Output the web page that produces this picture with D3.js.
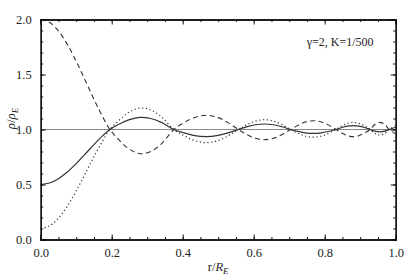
<!DOCTYPE html>
<html>
<head>
<meta charset="utf-8">
<script src="https://cdn.jsdelivr.net/npm/d3@7"></script>
<style>
  body { margin: 0; background: #fff; }
  text { font-family: "Liberation Serif", "DejaVu Serif", serif; fill: #222; }
</style>
</head>
<body>
<div id="grafico"></div>
<script>
// datos: r/R_E y rho/rho_E para cada curva
var radios = [0, 0.025, 0.05, 0.075, 0.1, 0.125, 0.15, 0.175, 0.195,
  0.22, 0.25, 0.28, 0.31, 0.34, 0.375,
  0.40, 0.43, 0.466, 0.50, 0.53, 0.557,
  0.58, 0.605, 0.63, 0.655, 0.68, 0.704,
  0.725, 0.745, 0.768, 0.79, 0.81, 0.832,
  0.848, 0.864, 0.88, 0.896, 0.912, 0.928,
  0.941, 0.955, 0.969, 0.982, 1.0];

var continua = [0.5, 0.514, 0.553, 0.613, 0.69, 0.776, 0.863, 0.944, 1.0,
  1.047, 1.09, 1.11, 1.10, 1.065, 1.0,
  0.973, 0.947, 0.935, 0.946, 0.971, 1.0,
  1.024, 1.043, 1.05, 1.043, 1.025, 1.0,
  0.983, 0.970, 0.965, 0.97, 0.982, 1.0,
  1.018, 1.03, 1.035, 1.03, 1.018, 1.0,
  0.985, 0.978, 0.985, 1.0, 1.02];

var discontinua = [2.0, 1.973, 1.895, 1.774, 1.62, 1.449, 1.274, 1.112, 1.0,
  0.907, 0.82, 0.78, 0.80, 0.87, 1.0,
  1.055, 1.105, 1.13, 1.108, 1.058, 1.0,
  0.956, 0.92, 0.907, 0.92, 0.954, 1.0,
  1.039, 1.068, 1.08, 1.069, 1.042, 1.0,
  0.968, 0.944, 0.935, 0.944, 0.968, 1.0,
  1.046, 1.065, 1.046, 1.0, 0.96];

var punteada = [0.1, 0.124, 0.195, 0.303, 0.442, 0.596, 0.753, 0.899, 1.0,
  1.082, 1.16, 1.195, 1.178, 1.115, 1.0,
  0.95, 0.903, 0.88, 0.90, 0.946, 1.0,
  1.042, 1.076, 1.089, 1.077, 1.044, 1.0,
  0.966, 0.941, 0.93, 0.94, 0.964, 1.0,
  1.033, 1.056, 1.065, 1.056, 1.033, 1.0,
  0.965, 0.95, 0.965, 1.0, 1.035];

var ticksX = [0, 0.2, 0.4, 0.6, 0.8, 1.0];
var ticksY = [0, 0.5, 1.0, 1.5, 2.0];
var anotacion = "\u03b3=2, K=1/500";

// zona de dibujo
var W = 415, H = 277;
var margin = {top: 19.5, right: 19.3, bottom: 37.5, left: 40.7},
    w = W - margin.left - margin.right,
    h = H - margin.top - margin.bottom;

var x = d3.scaleLinear().domain([0, 1]).range([0, w]);
var y = d3.scaleLinear().domain([0, 2]).range([h, 0]);

var svg = d3.select("#grafico").append("svg")
  .attr("width", W).attr("height", H)
  .append("g")
  .attr("transform", "translate(" + margin.left + "," + margin.top + ")");

// linea de referencia en 1.0
svg.append("line")
  .attr("x1", x(0)).attr("x2", x(1))
  .attr("y1", y(1)).attr("y2", y(1))
  .attr("stroke", "#8a8a8a").attr("stroke-width", 1);

// curvas
var linea = d3.line()
  .x(function(d) { return x(d.r); })
  .y(function(d) { return y(d.v); })
  .curve(d3.curveCatmullRom);

function puntos(vals) {
  return radios.map(function(r, i) { return {r: r, v: vals[i]}; });
}

svg.append("path").attr("d", linea(puntos(continua)))
  .attr("fill", "none").attr("stroke", "#333").attr("stroke-width", 1.2);
svg.append("path").attr("d", linea(puntos(discontinua)))
  .attr("fill", "none").attr("stroke", "#333").attr("stroke-width", 1.1)
  .attr("stroke-dasharray", "5,3.5");
svg.append("path").attr("d", linea(puntos(punteada)))
  .attr("fill", "none").attr("stroke", "#333").attr("stroke-width", 1.2)
  .attr("stroke-dasharray", "1.2,2.6");

// ejes con marcas hacia dentro (mayores y menores)
var fmt = d3.format(".1f");
var minX = d3.range(0, 1.0001, 0.05), minY = d3.range(0, 2.0001, 0.1);

svg.append("g").attr("transform", "translate(0," + h + ")")
  .call(d3.axisBottom(x).tickValues(minX).tickSize(-2.5).tickFormat(""));
svg.append("g").attr("transform", "translate(0," + h + ")")
  .call(d3.axisBottom(x).tickValues(ticksX).tickSize(-5).tickPadding(9).tickFormat(fmt));
svg.append("g")
  .call(d3.axisTop(x).tickValues(minX).tickSize(-2.5).tickFormat(""));
svg.append("g")
  .call(d3.axisTop(x).tickValues(ticksX).tickSize(-5).tickFormat(""));
svg.append("g")
  .call(d3.axisLeft(y).tickValues(minY).tickSize(-2.5).tickFormat(""));
svg.append("g")
  .call(d3.axisLeft(y).tickValues(ticksY).tickSize(-5).tickPadding(9).tickFormat(fmt));
svg.append("g").attr("transform", "translate(" + w + ",0)")
  .call(d3.axisRight(y).tickValues(minY).tickSize(-2.5).tickFormat(""));
svg.append("g").attr("transform", "translate(" + w + ",0)")
  .call(d3.axisRight(y).tickValues(ticksY).tickSize(-5).tickFormat(""));

svg.selectAll(".domain").attr("stroke", "#111").attr("stroke-width", 1.3);
svg.selectAll(".tick line").attr("stroke", "#111").attr("stroke-width", 1);
svg.selectAll(".tick text")
  .style("font-family", "'Liberation Serif', serif")
  .style("font-size", "12.5px").attr("fill", "#333");

// etiquetas de los ejes
var ex = svg.append("text")
  .attr("x", w / 2).attr("y", h + 31)
  .attr("text-anchor", "middle").style("font-size", "12.5px");
ex.append("tspan").text("r/");
ex.append("tspan").style("font-style", "italic").text("R");
ex.append("tspan").style("font-style", "italic").style("font-size", "9px")
  .attr("dy", 3).text("E");

var ey = svg.append("text")
  .attr("transform", "translate(-26," + y(1.1) + ") rotate(-90)")
  .attr("text-anchor", "middle").style("font-size", "13px");
ey.append("tspan").style("font-style", "italic").text("\u03c1");
ey.append("tspan").text("/");
ey.append("tspan").style("font-style", "italic").text("\u03c1");
ey.append("tspan").style("font-style", "italic").style("font-size", "9px")
  .attr("dy", 3).text("E");

// anotacion de parametros
svg.append("text")
  .attr("x", 266).attr("y", 26.5)
  .style("font-size", "12px")
  .text(anotacion);
</script>
</body>
</html>
